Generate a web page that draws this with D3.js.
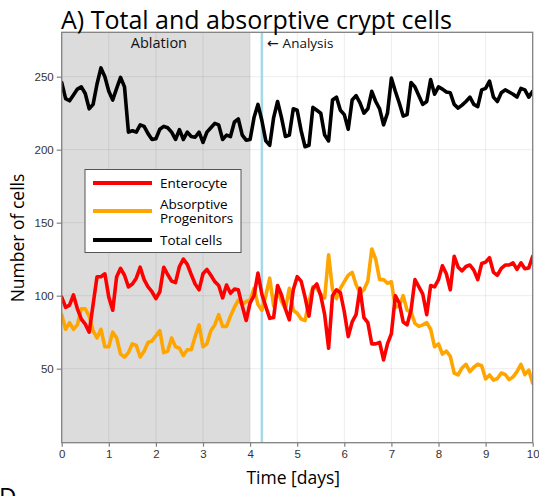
<!DOCTYPE html>
<html>
<head>
<meta charset="utf-8">
<script src="https://cdn.jsdelivr.net/npm/d3@7"></script>
<style>
  body { margin: 0; background: #fff; }
  svg { display: block; }
</style>
</head>
<body>
<svg id="chart" width="539" height="496"></svg>
<script>
// Sampling times (every 2 hours over 10 days)
const days = d3.range(121).map(i => i / 12);

// Total crypt cells
const totalCells = [
  246, 235, 233.5, 237.5, 241.5, 243, 238.5, 228, 231, 245,
  256, 250, 240, 234, 242, 249.5, 243, 212, 213, 212,
  217, 216, 211, 207, 207.5, 214, 216, 215, 212, 207,
  213.7, 207, 212, 209, 208.5, 212, 205, 212, 215, 218,
  217, 207, 210, 209, 219, 221, 210, 206.5, 207, 222,
  231, 220, 206, 203, 222, 233, 222, 209, 210, 228,
  227, 213, 202, 203, 229, 227, 225, 210, 206, 234,
  236, 227, 224, 214, 234, 237, 232, 225, 228, 240,
  233, 228, 217, 225, 249, 240, 232, 223, 224, 246,
  243, 237, 231, 233, 248, 238, 243, 241.5, 239.5, 239,
  231, 228.5, 230.5, 233, 236, 231, 229.5, 241, 242, 247,
  236, 233, 239, 241, 239.5, 238, 236, 242, 241, 236,
  240
];

// Enterocytes
const enterocytes = [
  99, 92, 93.5, 100.5, 91, 84, 80.5, 75, 94, 113,
  113, 115, 99, 90, 113, 118.7, 114, 106, 108, 112,
  119.5, 111, 106, 102.7, 98, 102.7, 119.5, 114.5, 110, 109,
  120, 125, 121.5, 114.5, 108, 104, 115, 118, 114, 109.6,
  107, 98.5, 107.3, 101.6, 104.5, 104, 93, 83, 95, 100,
  115.5, 101, 92.5, 84.5, 85, 107, 100.5, 91, 83.5, 104,
  113, 110, 99, 86, 105, 108, 100, 87, 64, 100,
  104, 102, 89, 72, 82, 87, 105, 85, 81.5, 67,
  67, 68, 56, 67, 74, 100, 95, 82, 80, 90,
  111, 106, 101, 87, 107, 106, 111, 120.5, 115, 104,
  127, 119.5, 117, 120, 121, 117.5, 111, 122, 123, 126,
  116, 114, 118.7, 121, 121, 122.5, 118, 122.5, 118.5, 119,
  127
];

// Absorptive progenitors
const progenitors = [
  87, 77, 81.5, 77, 80, 91, 91, 86, 76, 71,
  77, 65, 65, 75, 71, 60, 58, 61, 67, 66,
  58, 62, 68, 69, 72.5, 76, 61, 62, 71, 65,
  64, 59, 63, 63, 72, 80, 65, 67, 76, 80,
  87, 79, 79, 86, 92, 97, 94, 96, 97, 105,
  94, 90, 100, 112, 93, 104, 96, 91, 105, 90,
  88, 84, 83, 96, 106, 105, 101, 98.5, 128, 104,
  98, 105, 109.6, 114, 116, 107.5, 102, 104, 110, 132,
  125, 111, 111, 108.5, 109.5, 92, 93, 100, 90, 89,
  81, 79, 80, 81.5, 77, 65, 67, 60, 62, 58.5,
  47, 45.7, 50.5, 53, 48, 51, 53, 52, 43, 45.7,
  42.2, 43.3, 47, 46, 42.5, 44.4, 48, 53, 46, 49,
  40
];

const xTicks = [0, 1, 2, 3, 4, 5, 6, 7, 8, 9, 10];
const yTicks = [50, 100, 150, 200, 250];
const ablationEnd = 4;
const analysisDay = 4.25;

const seriesNames = ["Enterocyte", "Absorptive\nProgenitors", "Total cells"];
const seriesColors = ["#ff0000", "#ffa500", "#000000"];

const svg = d3.select("#chart");
const plot = { left: 61.7, right: 532.7, top: 32.3, bottom: 442.7 };

const x = d3.scaleLinear().domain([0, 10]).range([plot.left, plot.right]);
const y = d3.scaleLinear().domain([-0.7, 280.4]).range([plot.bottom, plot.top]);

const sansFont = "'Open Sans', 'Noto Sans', sans-serif";
const tickFont = "'Liberation Sans', Arial, sans-serif";

// clip region for the data area
svg.append("defs").append("clipPath").attr("id", "plot-clip")
  .append("rect")
  .attr("x", plot.left).attr("y", plot.top)
  .attr("width", plot.right - plot.left).attr("height", plot.bottom - plot.top);

// ablation period shading
svg.append("rect")
  .attr("x", x(0)).attr("y", plot.top)
  .attr("width", x(ablationEnd) - x(0)).attr("height", plot.bottom - plot.top)
  .attr("fill", "#dcdcdc");

// grid
const grid = svg.append("g").attr("stroke", "rgba(0,0,0,0.075)").attr("stroke-width", 1);
grid.selectAll(".gx").data(xTicks.slice(1, -1)).join("line")
  .attr("x1", d => x(d)).attr("x2", d => x(d))
  .attr("y1", plot.top).attr("y2", plot.bottom);
grid.selectAll(".gy").data(yTicks).join("line")
  .attr("x1", plot.left).attr("x2", plot.right)
  .attr("y1", d => y(d)).attr("y2", d => y(d));

// analysis start marker
svg.append("line")
  .attr("x1", x(analysisDay)).attr("x2", x(analysisDay))
  .attr("y1", plot.top).attr("y2", plot.bottom)
  .attr("stroke", "#a6d8e7").attr("stroke-width", 2.5);

// data lines
const line = (vals) => d3.line()
  .x((d, i) => x(days[i]))
  .y(d => y(d))(vals);

const dataG = svg.append("g").attr("clip-path", "url(#plot-clip)")
  .attr("fill", "none").attr("stroke-width", 3.6)
  .attr("stroke-linejoin", "round").attr("stroke-linecap", "round");
dataG.append("path").attr("d", line(progenitors)).attr("stroke", seriesColors[1]);
dataG.append("path").attr("d", line(enterocytes)).attr("stroke", seriesColors[0]);
dataG.append("path").attr("d", line(totalCells)).attr("stroke", seriesColors[2]);

// frame
svg.append("rect")
  .attr("x", plot.left).attr("y", plot.top)
  .attr("width", plot.right - plot.left).attr("height", plot.bottom - plot.top)
  .attr("fill", "none").attr("stroke", "#808080").attr("stroke-width", 1.3);

// axes
const yAxis = svg.append("g")
  .attr("transform", `translate(${plot.left},0)`)
  .call(d3.axisLeft(y).tickValues(yTicks).tickSize(5).tickPadding(3));
const xAxis = svg.append("g")
  .attr("transform", `translate(0,${plot.bottom})`)
  .call(d3.axisBottom(x).tickValues(xTicks).tickSize(4).tickPadding(3));
[yAxis, xAxis].forEach(g => {
  g.select(".domain").remove();
  g.selectAll(".tick line").attr("stroke", "#808080").attr("stroke-width", 1.2);
  g.selectAll(".tick text").attr("fill", "#333")
    .style("font-family", tickFont).style("font-size", "11.5px");
});

// annotations
svg.append("text")
  .attr("x", x(2) + 3).attr("y", 48)
  .attr("text-anchor", "middle")
  .style("font-family", sansFont).style("font-size", "14.5px").attr("fill", "#111")
  .text("Ablation");
const analysisLabel = svg.append("text")
  .attr("x", x(analysisDay) + 5).attr("y", 48)
  .style("font-family", sansFont).style("font-size", "13.5px").attr("fill", "#111");
analysisLabel.append("tspan").style("font-family", "'DejaVu Sans', sans-serif")
  .style("font-size", "14px").text("\u2190");
analysisLabel.append("tspan").attr("dx", 4).text("Analysis");

// title and axis labels
svg.append("text")
  .attr("x", 61).attr("y", 29)
  .style("font-family", sansFont).style("font-size", "25px").attr("fill", "#000")
  .text("A) Total and absorptive crypt cells");
svg.append("text")
  .attr("x", (plot.left + plot.right) / 2 - 4).attr("y", 484)
  .attr("text-anchor", "middle")
  .style("font-family", sansFont).style("font-size", "17.5px").attr("fill", "#000")
  .text("Time [days]");
svg.append("text")
  .attr("transform", `translate(24,${238}) rotate(-90)`)
  .attr("text-anchor", "middle")
  .style("font-family", sansFont).style("font-size", "17.5px").attr("fill", "#000")
  .text("Number of cells");

// next panel label, cut by the page edge
svg.append("text")
  .attr("x", -1).attr("y", 505)
  .style("font-family", sansFont).style("font-size", "24px").attr("fill", "#000")
  .text("D");

// legend
const legend = svg.append("g");
legend.append("rect")
  .attr("x", 85).attr("y", 169.5).attr("width", 156).attr("height", 83)
  .attr("fill", "#fff").attr("stroke", "#555").attr("stroke-width", 1);
const legendRows = [183, 211, 240];
seriesNames.forEach((name, i) => {
  legend.append("line")
    .attr("x1", 93).attr("x2", 152)
    .attr("y1", legendRows[i]).attr("y2", legendRows[i])
    .attr("stroke", seriesColors[i]).attr("stroke-width", 4);
  const parts = name.split("\n");
  const t = legend.append("text")
    .attr("x", 160)
    .style("font-family", sansFont).style("font-size", "13.5px").attr("fill", "#000");
  parts.forEach((p, k) => {
    t.append("tspan")
      .attr("x", 160)
      .attr("y", legendRows[i] + 4.8 + (k - (parts.length - 1) / 2) * 14)
      .text(p);
  });
});
</script>
</body>
</html>
